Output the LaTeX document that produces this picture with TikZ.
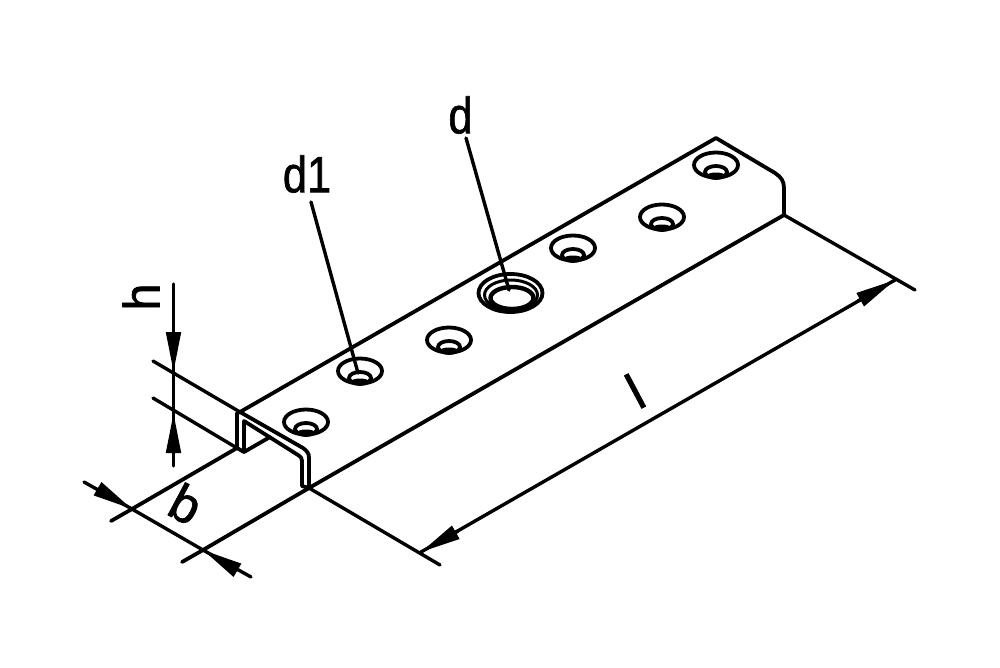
\documentclass[tikz,border=0pt]{standalone}
\usepackage{fontspec}
\newfontfamily\dimfont[FakeBold=1.4]{Liberation Sans}
\usetikzlibrary{arrows.meta}
\tikzset{
  part/.style={line width=3.8pt, line join=round, line cap=round},
  dimline/.style={line width=3.4pt, line cap=round},
  dimtip/.style={dimline, -{Triangle[length=40pt, width=14.5pt]}},
  dimlabel/.style={font=\dimfont\fontsize{51}{51}\selectfont, inner sep=0pt, transform shape},
}
\begin{document}
\begin{tikzpicture}[x=1pt, y=-1pt]
  \useasboundingbox (0, 0) rectangle (1000, 667);

  % corners of the rail
  \coordinate (frontleft) at (240, 412);
  \coordinate (apex) at (716, 138);
  \coordinate (backright) at (784, 215);
  \coordinate (frontright) at (309, 488);
  \coordinate (lowleft) at (237, 448);

  % top sheet
  \draw[part] (frontleft) -- (apex) -- (775, 173) .. controls (781, 177) and (784, 181) .. (784, 188) -- (backright) -- (frontright);

  % cut end of the channel, outer and inner line
  \draw[part] (frontleft) -- (237, 413) -- (lowleft) -- (244, 452) -- (270, 437);
  \draw[part] (frontleft) -- (303, 448) .. controls (307, 451) and (309, 453) .. (309, 458) -- (frontright);
  \draw[part] (frontright) -- (302, 486) -- (302, 461) .. controls (302, 458) and (301, 457) .. (298, 455) -- (244, 421) -- (244, 452);

  % small countersunk holes
  \foreach \cx/\cy in {306/422, 360/371, 449/340, 573/248, 662/217, 716/165} {
    \draw[part] (\cx, \cy) ellipse [x radius=22pt, y radius=12.5pt];
    \draw[part] (\cx, \cy+7) ellipse [x radius=11pt, y radius=6pt];
    \fill (\cx, \cy+10.5) ellipse [x radius=9pt, y radius=3pt];
  }

  % big hole
  \draw[part] (510.5, 293) ellipse [x radius=32pt, y radius=19pt];
  \draw[line width=3pt] (511, 295) ellipse [x radius=26.5pt, y radius=15pt];
  \draw[line width=4.4pt] (512, 298) ellipse [x radius=21.5pt, y radius=11pt];

  % extension lines
  \coordinate (hupper) at (173.5, 372);
  \coordinate (hlower) at (173.5, 413);
  \coordinate (bleft) at (132, 509);
  \coordinate (bright) at (203, 550);
  \draw[dimline] (153, 361) -- (frontleft);
  \draw[dimline] (153, 398) -- (lowleft);
  \draw[part] (lowleft) -- (bleft) -- (111, 521);
  \draw[part] (frontright) -- (bright) -- (182, 562);
  \draw[dimline] (bleft) -- (bright);
  \coordinate (lback) at (895, 280);
  \coordinate (lfront) at (421, 552);
  \draw[dimline] (backright) -- (915, 290);
  \draw[dimline] (frontright) -- (440, 565);

  % h
  \draw[dimline] (173.5, 284) -- (173.5, 466);
  \draw[dimtip] (173.5, 332) -- (hupper);
  \draw[dimtip] (173.5, 453) -- (hlower);
  \node[dimlabel, rotate=90, xscale=0.95] (hlabel) at (141, 297) {h};

  % b
  \draw[dimline] (84, 482) -- (bleft);
  \draw[dimline] (251, 577) -- (bright);
  \draw[dimtip] (98, 489) -- (bleft);
  \draw[dimtip] (237, 570) -- (bright);
  \node[dimlabel, rotate=-28] (blabel) at (186, 504) {b};

  % l
  \draw[dimline] (lfront) -- (lback);
  \draw[dimtip] (458, 531) -- (lfront);
  \draw[dimtip] (858, 301) -- (lback);
  \node[dimlabel, rotate=28] (llabel) at (635, 391) {l};

  % d and d1 with leaders
  \node[dimlabel, xscale=0.85] (dlabel) at (460.5, 115) {d};
  \node[dimlabel, xscale=0.85] (donelabel) at (307, 174) {d1};
  \coordinate (dtip) at (509, 290);
  \coordinate (donetip) at (358, 373);
  \draw[dimline] (466, 138) -- (dtip);
  \draw[dimline] (311, 202) -- (donetip);
\end{tikzpicture}
\end{document}
